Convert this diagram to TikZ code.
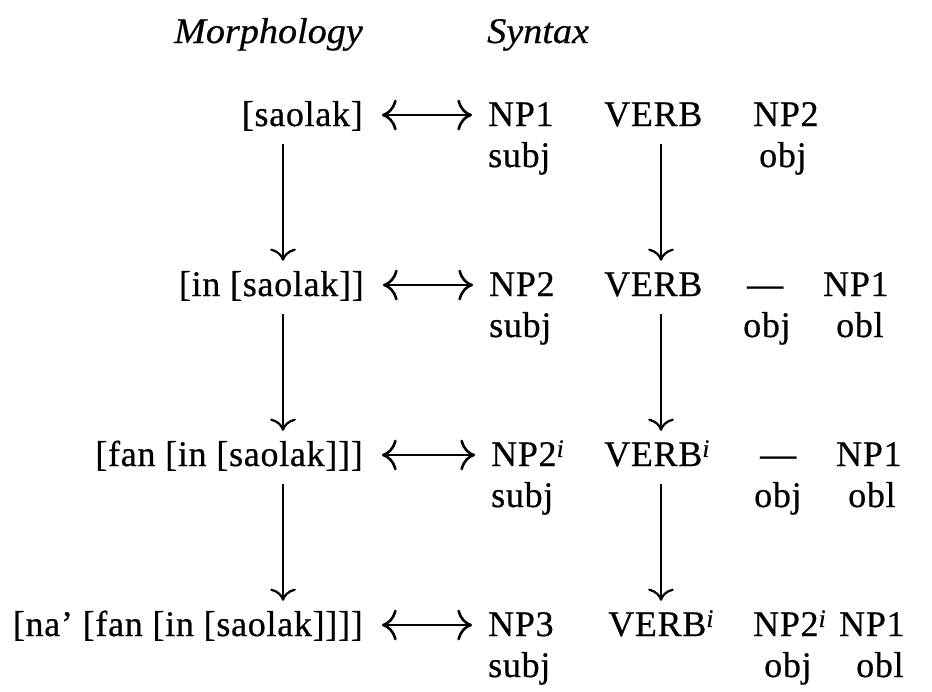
\documentclass[tikz,border=0pt]{standalone}
\usepackage{fontspec}
\setmainfont{Liberation Serif}
\newfontfamily\printfont{Liberation Serif}[FakeBold=0.6, LetterSpace=2]
\newfontfamily\headfont{Liberation Serif}[FakeBold=0.5, FakeStretch=1.06]
\usetikzlibrary{arrows.meta}
\newcommand{\idx}{\textsuperscript{\textit{i}}}
\begin{document}
\begin{tikzpicture}[x=1pt,y=-1pt,
  word/.style={anchor=base west, inner xsep=0pt, inner ysep=10pt,
    text height=25pt, text depth=8pt, font=\fontsize{36}{40}\printfont},
  morph/.style={word, anchor=base east},
  head/.style={word, font=\fontsize{36}{40}\headfont\itshape},
  harrow/.style={line width=2.6pt,
    {Computer Modern Rightarrow[scale=2]}-{Computer Modern Rightarrow[scale=2]},
    shorten <=19pt, shorten >=16pt},
  varrow/.style={line width=2.2pt,
    -{Computer Modern Rightarrow[scale=1.9]}}]
\useasboundingbox (0,0) rectangle (932,691);

% column positions of the two vertical derivation chains
\coordinate (lx) at (283,0);
\coordinate (vx) at (661,0);

% headings
\node[head, anchor=base east] (hm) at (363,43) {Morphology};
\node[head] (hs) at (487,43) {Syntax};

% row 1
\node[morph] (m1) at (363,126) {[saolak]};
\node[word] (n1a) at (488,126) {NP1};
\node[word] (n1b) at (604,126) {VERB};
\node[word] (n1c) at (753,126) {NP2};
\node[word] (f1a) at (488,167) {subj};
\node[word] (f1c) at (759,167) {obj};

% row 2
\node[morph] (m2) at (364,296) {[in [saolak]]};
\node[word] (n2a) at (489,296) {NP2};
\node[word] (n2b) at (604,296) {VERB};
\node[word] (n2c) at (747,296) {\textemdash};
\node[word] (n2d) at (823,296) {NP1};
\node[word] (f2a) at (489,337) {subj};
\node[word] (f2c) at (743,337) {obj};
\node[word] (f2d) at (836,337) {obl};

% row 3
\node[morph] (m3) at (363,466) {[fan [in [saolak]]]};
\node[word] (n3a) at (491,466) {NP2\idx};
\node[word] (n3b) at (604,466) {VERB\idx};
\node[word] (n3c) at (760,466) {\textemdash};
\node[word] (n3d) at (836,466) {NP1};
\node[word] (f3a) at (491,507) {subj};
\node[word] (f3c) at (754,507) {obj};
\node[word] (f3d) at (848,507) {obl};

% row 4
\node[morph] (m4) at (363,636) {[na’ [fan [in [saolak]]]]};
\node[word] (n4a) at (488,636) {NP3};
\node[word] (n4b) at (608,636) {VERB\idx};
\node[word] (n4c) at (753,636) {NP2\idx};
\node[word] (n4d) at (839,636) {NP1};
\node[word] (f4a) at (488,677) {subj};
\node[word] (f4c) at (764,677) {obj};
\node[word] (f4d) at (856,677) {obl};

% morphology <-> syntax correspondences
\draw[harrow] ([yshift=11pt]m1.base east) -- ([yshift=11pt]n1a.base west);
\draw[harrow] ([yshift=11pt]m2.base east) -- ([yshift=11pt]n2a.base west);
\draw[harrow] ([yshift=11pt]m3.base east) -- ([yshift=11pt]n3a.base west);
\draw[harrow] ([yshift=11pt]m4.base east) -- ([yshift=11pt]n4a.base west);

% derivation steps
\draw[varrow] (m1.south -| lx) -- (m2.north -| lx);
\draw[varrow] (m2.south -| lx) -- (m3.north -| lx);
\draw[varrow] (m3.south -| lx) -- (m4.north -| lx);
\draw[varrow] (n1b.south -| vx) -- (n2b.north -| vx);
\draw[varrow] (n2b.south -| vx) -- (n3b.north -| vx);
\draw[varrow] (n3b.south -| vx) -- (n4b.north -| vx);
\end{tikzpicture}
\end{document}
